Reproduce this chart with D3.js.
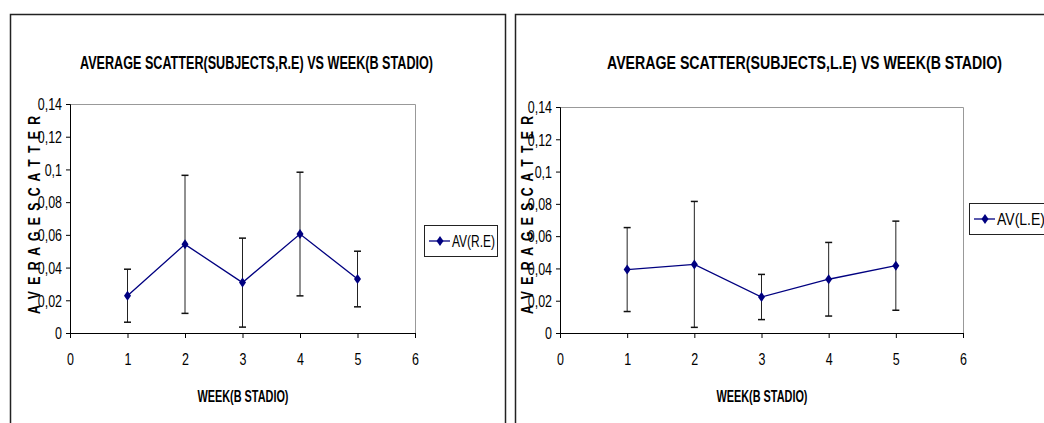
<!DOCTYPE html>
<html>
<head>
<meta charset="utf-8">
<script src="https://cdn.jsdelivr.net/npm/d3@7"></script>
<style>
body { margin: 0; background: #fff; }
svg text { font-family: "Liberation Sans", Arial, sans-serif; fill: #000; }
</style>
</head>
<body>
<svg id="chart" width="1044" height="423"></svg>
<script>
// data
var weeks = [1, 2, 3, 4, 5];
var avRE = [0.0228, 0.0542, 0.0308, 0.0605, 0.0330];
var errRE = [0.0162, 0.0422, 0.0272, 0.0378, 0.0170];
var avLE = [0.0393, 0.0425, 0.0223, 0.0333, 0.0417];
var errLE = [0.0260, 0.0390, 0.0140, 0.0228, 0.0276];
var xTicks = [0, 1, 2, 3, 4, 5, 6];
var yTicks = [0, 0.02, 0.04, 0.06, 0.08, 0.1, 0.12, 0.14];

var svg = d3.select("#chart");
var comma = function(d) { return String(+d.toFixed(2)).replace(".", ","); };
var SX = 0.78; // narrow look of the original font

function drawChart(c) {
  var g = svg.append("g");

  // outer frame
  g.append("rect")
    .attr("x", c.fx + 0.5).attr("y", c.fy + 0.5)
    .attr("width", c.fw).attr("height", c.fh)
    .attr("fill", "none").attr("stroke", "#222").attr("stroke-width", 1.5);

  var x = d3.scaleLinear().domain([0, 6]).range([c.left, c.right]);
  var y = d3.scaleLinear().domain([0, 0.14]).range([c.bottom, c.top]);

  // plot area border (top/right gray)
  g.append("path")
    .attr("d", "M" + c.left + "," + (c.top + 0.5) + "H" + (c.right + 0.5) + "V" + c.bottom)
    .attr("fill", "none").attr("stroke", "#999");

  var xa = g.append("g")
    .attr("transform", "translate(0," + c.bottom + ")")
    .call(d3.axisBottom(x).tickValues(xTicks).tickSize(5).tickPadding(16).tickFormat(d3.format("d")));
  var ya = g.append("g")
    .attr("transform", "translate(" + c.left + ",0)")
    .call(d3.axisLeft(y).tickValues(yTicks).tickSize(4).tickPadding(4).tickFormat(comma));
  [xa, ya].forEach(function(a) {
    a.select(".domain").attr("stroke", "#000");
    a.selectAll(".tick line").attr("stroke", "#000");
    a.selectAll("text").attr("font-size", 16).attr("fill", "#000")
      .style("font-family", "'Liberation Sans', Arial, sans-serif");
  });
  xa.selectAll(".tick text").attr("transform", "scale(" + SX + ",1)");
  ya.selectAll(".tick text").attr("x", -8 / SX).attr("dy", "0.36em")
    .attr("transform", "scale(" + SX + ",1)");

  // error bars
  var eb = g.append("g");
  weeks.forEach(function(w, i) {
    var cx = x(w), hi = y(c.av[i] + c.err[i]), lo = y(c.av[i] - c.err[i]);
    eb.append("line").attr("x1", cx).attr("x2", cx).attr("y1", hi).attr("y2", lo)
      .attr("stroke", "#222").attr("stroke-width", 1);
    [hi, lo].forEach(function(yy) {
      eb.append("line").attr("x1", cx - 3.5).attr("x2", cx + 3.5).attr("y1", yy).attr("y2", yy)
        .attr("stroke", "#111").attr("stroke-width", 1.5);
    });
  });

  // series line
  var line = d3.line().x(function(d, i) { return x(weeks[i]); }).y(function(d) { return y(d); });
  g.append("path").datum(c.av)
    .attr("d", line).attr("fill", "none").attr("stroke", "#000080").attr("stroke-width", 1.3);

  var diamond = "M0,-5L3.5,0L0,5L-3.5,0Z";
  g.selectAll(".pt").data(c.av).enter().append("path")
    .attr("class", "pt")
    .attr("d", diamond)
    .attr("transform", function(d, i) { return "translate(" + x(weeks[i]) + "," + y(d) + ")"; })
    .attr("fill", "#000080");

  // titles
  g.append("text")
    .attr("x", c.titleX).attr("y", 69)
    .attr("font-size", 19).attr("font-weight", "bold")
    .attr("textLength", c.titleW).attr("lengthAdjust", "spacingAndGlyphs")
    .text(c.title);
  g.append("text")
    .attr("x", (c.left + c.right) / 2 - 45).attr("y", 402)
    .attr("font-size", 16).attr("font-weight", "bold")
    .attr("textLength", 91).attr("lengthAdjust", "spacingAndGlyphs")
    .text("WEEK(B STADIO)");
  // y title: narrow glyphs, widely spaced
  g.append("text")
    .attr("transform", "translate(" + c.ytX + ",314) rotate(-90) scale(0.72,1)")
    .attr("font-size", 17).attr("font-weight", "bold")
    .attr("textLength", 198 / 0.72).attr("lengthAdjust", "spacing")
    .text("A V E R A G E   S C A T T E R");

  // legend
  var lg = g.append("g").attr("transform", "translate(" + c.legX + "," + c.legY + ")");
  lg.append("rect").attr("x", 0.5).attr("y", 0.5).attr("width", c.legW).attr("height", 31)
    .attr("fill", "#fff").attr("stroke", "#222");
  lg.append("line").attr("x1", 5).attr("x2", 26).attr("y1", 16).attr("y2", 16)
    .attr("stroke", "#000080").attr("stroke-width", 1.3);
  lg.append("path").attr("d", diamond).attr("transform", "translate(16,16)").attr("fill", "#000080");
  lg.append("text").attr("x", 28).attr("y", 22).attr("font-size", 16)
    .attr("textLength", c.legTL).attr("lengthAdjust", "spacingAndGlyphs")
    .text(c.legend);
}

drawChart({
  fx: 10, fy: 14, fw: 495, fh: 430,
  left: 70, right: 415, top: 104, bottom: 333,
  av: avRE, err: errRE,
  title: "AVERAGE SCATTER(SUBJECTS,R.E) VS WEEK(B STADIO)", titleX: 80, titleW: 353,
  ytX: 40, legX: 424, legY: 225, legW: 73, legend: "AV(R.E)", legTL: 43
});

drawChart({
  fx: 515, fy: 14, fw: 560, fh: 430,
  left: 560, right: 963, top: 107, bottom: 333,
  av: avLE, err: errLE,
  title: "AVERAGE SCATTER(SUBJECTS,L.E) VS WEEK(B STADIO)", titleX: 607, titleW: 395,
  ytX: 533, legX: 969, legY: 203, legW: 90, legend: "AV(L.E)", legTL: 48
});
</script>
</body>
</html>
